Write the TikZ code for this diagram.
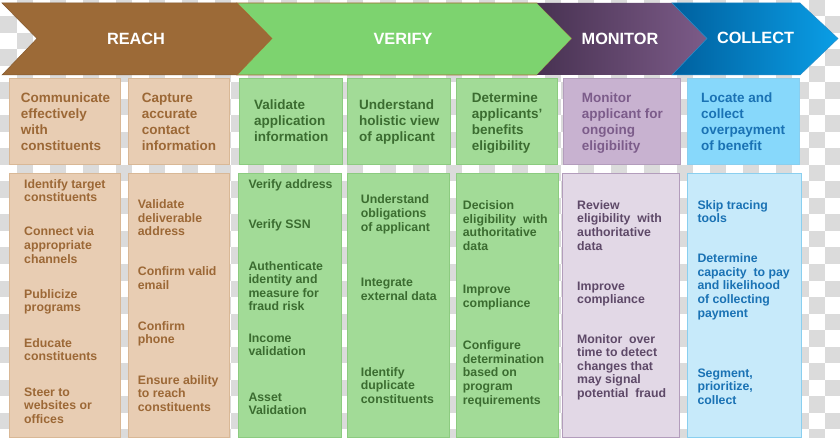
\documentclass[tikz,border=0pt]{standalone}
\usepackage{fontspec}
\setmainfont{Liberation Sans}
\begin{document}
\begin{tikzpicture}[x=1pt,y=-1pt,
  chk/.style={fill=black!14},
  chevtxt/.style={text=white,font=\fontsize{16.3}{20}\selectfont\bfseries,anchor=base,inner sep=0},
  hd/.style={font=\fontsize{13.5}{16}\selectfont\bfseries,anchor=base west,inner sep=0},
  lw/.style={font=\fontsize{12.3}{13.6}\selectfont\bfseries,anchor=base west,inner sep=0},
  bbox/.style={line width=0.6pt},
  cbrown/.style={bbox,fill=beige,draw=beigeb},
  cgreen/.style={bbox,fill=lgreen,draw=lgreenb},
  cpurph/.style={bbox,fill=purph,draw=purpb},
  cpurpl/.style={bbox,fill=purpl,draw=purpb},
  cblueh/.style={bbox,fill=blueh,draw=blueb},
  cbluel/.style={bbox,fill=bluel,draw=blueb}]
\definecolor{beige}{HTML}{E8CDB3}
\definecolor{beigeb}{HTML}{D9B896}
\definecolor{brownt}{HTML}{9C6836}
\definecolor{lgreen}{HTML}{A2DB97}
\definecolor{lgreenb}{HTML}{8CCB80}
\definecolor{greent}{HTML}{3B6C30}
\definecolor{purph}{HTML}{C8B2D0}
\definecolor{purpl}{HTML}{E2D8E6}
\definecolor{purpb}{HTML}{B39DBC}
\definecolor{purpht}{HTML}{7C5C8A}
\definecolor{purplt}{HTML}{5E4968}
\definecolor{blueh}{HTML}{87D8FB}
\definecolor{bluel}{HTML}{C7EAFA}
\definecolor{blueb}{HTML}{8ACFEF}
\definecolor{bluet}{HTML}{1A72B4}
\definecolor{reachc}{HTML}{9C6A37}
\definecolor{verifyc}{HTML}{7DD36F}
\useasboundingbox (0,0) rectangle (840,438);
\fill[white] (0,0) rectangle (840,438);
\begin{scope}
\clip (0,0) rectangle (840,438);
\foreach \i in {0,...,51}{\foreach \j in {0,...,26}{
  \pgfmathtruncatemacro\p{mod(\i+\j,2)}
  \ifnum\p=1 \fill[chk] (\i*16.5,\j*16.5) rectangle ++(16.5,16.5);\fi}}
\end{scope}
% chevrons
\fill[reachc,draw=reachc!85!black,line width=0.5pt] (2,3) -- (237,3) -- (272,38.5) -- (237,75) -- (2,75) -- (37,38.5) -- cycle;
\fill[verifyc,draw=reachc!90!orange,line width=0.6pt] (237,3) -- (537,3) -- (572,38.5) -- (537,75) -- (237,75) -- (272,38.5) -- cycle;
\shade[left color={rgb,255:red,72;green,50;blue,82},right color={rgb,255:red,124;green,91;blue,136}] (537,3) -- (672,3) -- (707,38.5) -- (672,75) -- (537,75) -- (572,38.5) -- cycle;
\shade[left color={rgb,255:red,0;green,96;blue,158},right color={rgb,255:red,10;green,158;blue,230}] (672,3) -- (800,3) -- (838,38.5) -- (800,75) -- (672,75) -- (707,38.5) -- cycle;
\draw[line width=0.5pt,color={rgb,255:red,40;green,140;blue,200}] (672,3) -- (800,3) -- (838,38.5) -- (800,75) -- (672,75) -- (707,38.5) -- cycle;
\node[chevtxt] (reach) at (136,44.3) {REACH};
\node[chevtxt] (verify) at (403,44.3) {VERIFY};
\node[chevtxt] (monitor) at (620,44.3) {MONITOR};
\node[chevtxt] (collect) at (755.5,44) {COLLECT};
% header boxes
\draw[cbrown] (9,78) rectangle (120,164);
\draw[cbrown] (128,78) rectangle (229,164);
\draw[cgreen] (239,78) rectangle (342,164);
\draw[cgreen] (347,78) rectangle (450,164);
\draw[cgreen] (456,78) rectangle (557,164);
\draw[cpurph] (563,78) rectangle (680,164);
\draw[cblueh] (687,78) rectangle (799,164);
% lower boxes
\draw[cbrown] (9,173) rectangle (120,437);
\draw[cbrown] (128,173) rectangle (229,437);
\draw[cgreen] (238,173) rectangle (341,437);
\draw[cgreen] (347,173) rectangle (449,437);
\draw[cgreen] (456,173) rectangle (558,437);
\draw[cpurpl] (562,173) rectangle (679,437);
\draw[cbluel] (687,173) rectangle (801,437);
% header texts
\newcommand{\tb}[1]{\begin{tabular}[t]{@{}l@{}}#1\end{tabular}}
\node[hd,text=brownt] (h1) at (20.7,102.3) {\tb{Communicate\\effectively\\with\\constituents}};
\node[hd,text=brownt] (h2) at (141.7,102.3) {\tb{Capture\\accurate\\contact\\information}};
\node[hd,text=greent] (h3) at (254,110) {\tb{Validate\\application\\information}};
\node[hd,text=greent] (h4) at (359,110) {\tb{Understand\\holistic view\\of applicant}};
\node[hd,text=greent] (h5) at (471.7,102.3) {\tb{Determine\\applicants'\\benefits\\eligibility}};
\node[hd,text=purpht] (h6) at (581.7,102.3) {\tb{Monitor\\applicant for\\ongoing\\eligibility}};
\node[hd,text=bluet] (h7) at (701,102.3) {\tb{Locate and\\collect\\overpayment\\of benefit}};
% lower texts: column 1
\node[lw,text=brownt] (a1) at (24,188.3) {\tb{Identify target\\constituents}};
\node[lw,text=brownt] (a2) at (24,236) {\tb{Connect via\\appropriate\\channels}};
\node[lw,text=brownt] (a3) at (24,298.3) {\tb{Publicize\\programs}};
\node[lw,text=brownt] (a4) at (24,347.3) {\tb{Educate\\constituents}};
\node[lw,text=brownt] (a5) at (24,396) {\tb{Steer to\\websites or\\offices}};
% column 2
\node[lw,text=brownt] (b1) at (137.7,208.7) {\tb{Validate\\deliverable\\address}};
\node[lw,text=brownt] (b2) at (137.7,275.7) {\tb{Confirm valid\\email}};
\node[lw,text=brownt] (b3) at (137.7,330) {\tb{Confirm\\phone}};
\node[lw,text=brownt] (b4) at (137.7,384) {\tb{Ensure ability\\to reach\\constituents}};
% column 3
\node[lw,text=greent] (c1) at (248.3,188.3) {\tb{Verify address}};
\node[lw,text=greent] (c2) at (248.3,229) {\tb{Verify SSN}};
\node[lw,text=greent] (c3) at (248.3,270) {\tb{Authenticate\\identity and\\measure for\\fraud risk}};
\node[lw,text=greent] (c4) at (248.3,342.3) {\tb{Income\\validation}};
\node[lw,text=greent] (c5) at (248.3,401.3) {\tb{Asset\\Validation}};
% column 4
\node[lw,text=greent] (d1) at (360.7,204) {\tb{Understand\\obligations\\of applicant}};
\node[lw,text=greent] (d2) at (360.7,286.7) {\tb{Integrate\\external data}};
\node[lw,text=greent] (d3) at (360.7,376.3) {\tb{Identify\\duplicate\\constituents}};
% column 5
\node[lw,text=greent] (e1) at (462.7,209.7) {\tb{Decision\\eligibility\ \ with\\authoritative\\data}};
\node[lw,text=greent] (e2) at (462.7,293.7) {\tb{Improve\\compliance}};
\node[lw,text=greent] (e3) at (462.7,349.7) {\tb{Configure\\determination\\based on\\program\\requirements}};
% column 6
\node[lw,text=purplt] (f1) at (577,209.3) {\tb{Review\\eligibility\ \ with\\authoritative\\data}};
\node[lw,text=purplt] (f2) at (577,290) {\tb{Improve\\compliance}};
\node[lw,text=purplt] (f3) at (577,343) {\tb{Monitor\ \ over\\time to detect\\changes that\\may signal\\potential\ \ fraud}};
% column 7
\node[lw,text=bluet] (g1) at (697.3,209.3) {\tb{Skip tracing\\tools}};
\node[lw,text=bluet] (g2) at (697.3,262.7) {\tb{Determine\\capacity\ \ to pay\\and likelihood\\of collecting\\payment}};
\node[lw,text=bluet] (g3) at (697.3,377.3) {\tb{Segment,\\prioritize,\\collect}};
\end{tikzpicture}
\end{document}
